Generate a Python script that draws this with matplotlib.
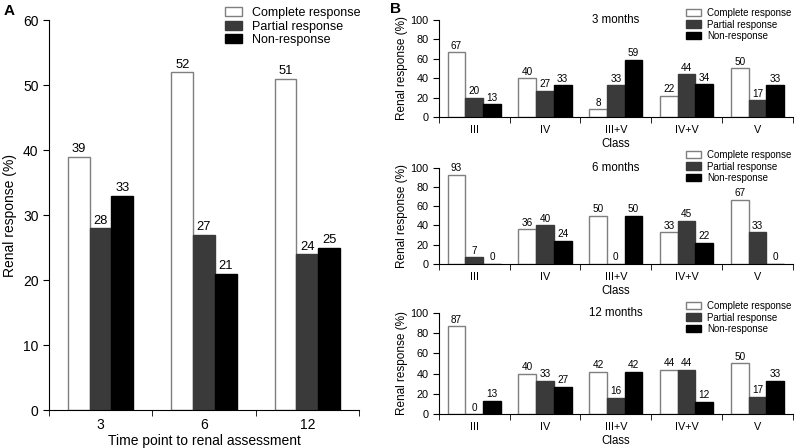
import numpy as np
import matplotlib.pyplot as plt

plt.rcParams['font.family'] = ['Liberation Sans', 'DejaVu Sans']

series = ['Complete response', 'Partial response', 'Non-response']
colors = ['white', '#3a3a3a', 'black']
edges = ['#7f7f7f', '#3a3a3a', 'black']

# Panel A
time_points = ['3', '6', '12']
a_complete = [39, 52, 51]
a_partial = [28, 27, 24]
a_none = [33, 21, 25]

# Panel B
classes = ['III', 'IV', 'III+V', 'IV+V', 'V']
b_titles = ['3 months', '6 months', '12 months']
b_complete = [[67, 40, 8, 22, 50], [93, 36, 50, 33, 67], [87, 40, 42, 44, 50]]
b_partial = [[20, 27, 33, 44, 17], [7, 40, 0, 45, 33], [0, 33, 16, 44, 17]]
b_none = [[13, 33, 59, 34, 33], [0, 24, 50, 22, 0], [13, 27, 42, 12, 33]]


def style_axes(ax, n, labels, fs, pad):
    for s in ['top', 'right']:
        ax.spines[s].set_visible(False)
    ax.set_xlim(-0.5, n - 0.5)
    ax.set_xticks(np.arange(n))
    ax.set_xticklabels(labels, fontsize=fs)
    ax.set_xticks(np.arange(n + 1) - 0.5, minor=True)
    ax.tick_params(axis='x', which='major', length=0, pad=pad)
    ax.tick_params(axis='x', which='minor', length=4, direction='out')
    ax.tick_params(axis='y', labelsize=fs, length=4)


def draw_bars(ax, data, width, fs):
    x = np.arange(len(data[0]))
    for i, vals in enumerate(data):
        bars = ax.bar(x + (i - 1) * width, vals, width, color=colors[i],
                      edgecolor=edges[i], linewidth=1.0, label=series[i])
        ax.bar_label(bars, labels=[str(v) for v in vals], padding=1, fontsize=fs)


fig = plt.figure(figsize=(7.95, 4.48), dpi=100)

# ---- A ----
axA = fig.add_axes([0.0616, 0.0848, 0.390, 0.8705])
draw_bars(axA, [a_complete, a_partial, a_none], 0.21, 9.3)
style_axes(axA, 3, time_points, 10, 6)
axA.set_ylim(0, 60)
axA.set_yticks(range(0, 61, 10))
axA.set_ylabel('Renal response (%)', fontsize=10)
axA.set_xlabel('Time point to renal assessment', fontsize=10, labelpad=1)
axA.legend(loc='upper left', bbox_to_anchor=(0.283, 0.984), bbox_transform=fig.transFigure,
           frameon=False, fontsize=9, handlelength=1.4, handleheight=0.75,
           labelspacing=0.12, handletextpad=0.8, borderaxespad=0, borderpad=0)
fig.text(0.005, 0.99, 'A', fontsize=11, fontweight='bold', va='top')

# ---- B ----
b_boxes = [[0.552, 0.739, 0.4453, 0.2165],
           [0.552, 0.411, 0.4453, 0.2143],
           [0.552, 0.076, 0.4453, 0.2254]]
leg_tops = [0.982, 0.665, 0.328]
for k in range(3):
    ax = fig.add_axes(b_boxes[k])
    draw_bars(ax, [b_complete[k], b_partial[k], b_none[k]], 0.25, 7.2)
    style_axes(ax, 5, classes, 7.8, 6)
    ax.set_ylim(0, 100)
    ax.set_yticks(range(0, 101, 20))
    ax.set_ylabel('Renal response (%)', fontsize=8.5, labelpad=2)
    ax.set_xlabel('Class', fontsize=8.3, labelpad=2)
    ax.text(0.5, 1.0, b_titles[k], transform=ax.transAxes, fontsize=8.3,
            ha='center', va='center')
    ax.legend(loc='upper left', bbox_to_anchor=(0.863, leg_tops[k]),
              bbox_transform=fig.transFigure, frameon=False, fontsize=7,
              handlelength=1.55, handleheight=0.8, labelspacing=0.15,
              handletextpad=0.6, borderaxespad=0, borderpad=0)
fig.text(0.491, 0.995, 'B', fontsize=11, fontweight='bold', va='top')

fig.savefig('out.png', dpi=100)
